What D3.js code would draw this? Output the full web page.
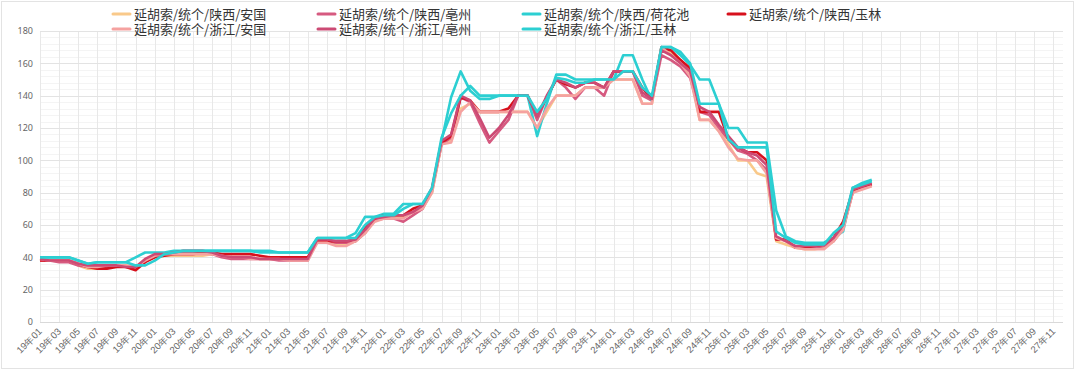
<!DOCTYPE html>
<html>
<head>
<meta charset="utf-8">
<script src="https://cdn.jsdelivr.net/npm/d3@7"></script>
<style>
  body { margin: 0; background: #fff; }
  svg { display: block; font-family: "Noto Sans CJK SC", "Noto Sans", sans-serif; }
</style>
</head>
<body>
<script>
// series names (legend order)
var seriesNames = [
  "延胡索/统个/陕西/安国", "延胡索/统个/陕西/亳州", "延胡索/统个/陕西/荷花池", "延胡索/统个/陕西/玉林",
  "延胡索/统个/浙江/安国", "延胡索/统个/浙江/亳州", "延胡索/统个/浙江/玉林"
];
var seriesColors = ["#f9c98a", "#d65a80", "#2ccfd2", "#d7101c", "#f5a2a0", "#cc4a74", "#2ccfd2"];

// monthly prices from 19年01 to 26年04
var sxAnguo = [39,38,38,38,35,33,33,34,35,35,34,38,
  40,41,41,41,41,41,42,41,40,40,40,39,39,39,39,39,39,
  50,50,48,48,50,55,63,65,65,65,68,70,80,
  110,112,132,135,130,130,130,130,130,130,120,130,
  140,140,140,145,145,145,150,150,150,135,135,
  170,166,162,155,125,125,118,110,100,100,92,90,50,48,46,45,45,46,50,58,80,83,85];
var sxBozhou = [38,38,37,37,35,34,34,34,35,34,33,38,
  41,42,42,43,43,43,42,40,39,39,39,39,39,38,38,38,38,
  50,50,49,49,50,55,63,64,64,62,66,70,82,
  110,114,139,136,123,111,118,125,140,140,125,139,
  150,145,138,145,145,140,155,155,155,140,137,
  165,162,158,151,130,128,120,113,106,104,100,94,51,51,46,46,46,47,50,58,80,83,85];
var sxHehuachi = [40,40,40,40,38,36,37,37,37,37,40,43,
  43,43,44,44,44,44,44,44,44,44,44,44,44,43,43,43,43,
  52,52,52,52,55,65,65,67,67,73,73,73,81,
  112,139,155,143,138,138,140,140,140,140,115,135,
  153,153,150,150,150,150,150,165,165,150,137,
  170,170,165,159,150,150,135,120,120,111,111,111,69,53,50,49,49,49,52,56,83,86,88];
var sxYulin = [38,38,38,38,36,34,33,33,34,34,32,37,
  40,41,42,42,42,43,43,42,42,42,42,41,40,40,40,40,40,
  50,50,50,50,51,58,64,66,66,66,70,72,82,
  111,115,139,137,130,130,130,132,140,140,128,139,
  150,147,145,148,148,145,155,155,155,145,138,
  170,168,162,157,130,130,130,113,108,105,105,100,51,51,46,46,47,48,52,62,81,84,85];
var zjAnguo = [39,38,38,38,36,34,34,35,35,35,34,38,
  41,42,42,42,42,42,42,41,40,40,39,39,39,39,38,38,38,
  49,49,47,47,50,55,62,64,64,64,68,70,80,
  110,111,130,136,130,130,130,130,130,130,120,132,
  140,140,140,145,145,145,150,150,150,135,135,
  170,165,160,152,125,125,118,108,101,100,100,92,52,50,46,45,45,45,50,57,80,82,84];
var zjBozhou = [39,38,38,38,36,35,35,35,35,34,34,39,
  42,42,43,44,44,44,43,41,40,40,40,39,39,39,39,39,39,
  51,51,50,50,51,57,64,65,66,66,68,72,83,
  112,116,140,137,126,114,120,128,140,140,127,140,
  150,148,145,148,148,145,155,155,155,142,138,
  168,165,160,155,133,130,122,115,108,105,103,97,53,50,47,47,47,48,52,60,82,84,86];
var zjYulin = [40,40,40,40,38,36,37,37,37,37,35,35,
  38,42,43,44,44,44,44,44,44,44,44,43,43,43,43,43,43,
  52,52,52,52,52,60,65,66,66,70,73,73,83,
  114,129,140,146,140,140,140,140,140,140,130,138,
  151,150,148,148,150,150,150,155,155,145,140,
  170,170,167,160,135,135,135,113,108,108,108,108,56,52,49,48,48,48,55,60,83,85,87];

var seriesValues = [sxAnguo, sxBozhou, sxHehuachi, sxYulin, zjAnguo, zjBozhou, zjYulin];

// x categories: 19年01 .. 27年12
var months = [];
for (var yy = 19; yy <= 27; yy++) {
  for (var mm = 1; mm <= 12; mm++) {
    months.push(yy + "年" + (mm < 10 ? "0" + mm : mm));
  }
}
var yTicks = [0, 20, 40, 60, 80, 100, 120, 140, 160, 180];

var W = 1080, H = 374;
var plotLeft = 40, plotRight = 1063, plotTop = 31, plotBottom = 322;

var svg = d3.select("body").append("svg")
  .attr("width", W)
  .attr("height", H);

// outer frame
svg.append("rect")
  .attr("x", 1.5).attr("y", 1.5)
  .attr("width", 1072).attr("height", 367)
  .attr("fill", "none")
  .attr("stroke", "#e3e3e3");

var x = d3.scalePoint().domain(months).range([plotLeft, plotRight]);
var y = d3.scaleLinear().domain([0, 180]).range([plotBottom, plotTop]);

// minor horizontal grid
svg.append("g")
  .selectAll("line")
  .data(d3.range(0, 181, 4).filter(function(d) { return d % 20 != 0; }))
  .enter().append("line")
  .attr("x1", plotLeft).attr("x2", plotRight)
  .attr("y1", function(d) { return Math.round(y(d)) + 0.5; })
  .attr("y2", function(d) { return Math.round(y(d)) + 0.5; })
  .attr("stroke", "#f4f4f4");

// vertical grid at every labelled month
var labelled = months.filter(function(d, i) { return i % 2 == 0; });
svg.append("g")
  .selectAll("line")
  .data(labelled)
  .enter().append("line")
  .attr("x1", function(d) { return Math.round(x(d)) + 0.5; })
  .attr("x2", function(d) { return Math.round(x(d)) + 0.5; })
  .attr("y1", plotTop).attr("y2", plotBottom)
  .attr("stroke", "#e8e8e8");

// major horizontal grid
svg.append("g")
  .selectAll("line")
  .data(yTicks)
  .enter().append("line")
  .attr("x1", plotLeft).attr("x2", plotRight)
  .attr("y1", function(d) { return Math.round(y(d)) + 0.5; })
  .attr("y2", function(d) { return Math.round(y(d)) + 0.5; })
  .attr("stroke", function(d) { return d == 0 ? "#d9d9d9" : "#e3e3e3"; });

// y axis labels
var yAxis = d3.axisLeft(y).tickValues(yTicks).tickSize(0).tickPadding(6);
var gy = svg.append("g")
  .attr("transform", "translate(" + (plotLeft - 1) + ",0)")
  .call(yAxis);
gy.select(".domain").remove();
gy.selectAll("text")
  .style("font-size", "9px")
  .style("fill", "#666")
  .style("font-family", "\"Noto Sans\", sans-serif");

// x axis labels
var xAxis = d3.axisBottom(x).tickValues(labelled).tickSize(0).tickPadding(0);
var gx = svg.append("g")
  .attr("transform", "translate(0," + plotBottom + ")")
  .call(xAxis);
gx.select(".domain").remove();
gx.selectAll("text")
  .style("font-size", "9.5px")
  .style("fill", "#666")
  .style("text-anchor", "end")
  .attr("y", 0)
  .attr("dy", 0)
  .attr("transform", "translate(2,10) rotate(-45)");

// lines
var line = d3.line()
  .x(function(d, i) { return x(months[i]); })
  .y(function(d) { return y(d); });

svg.append("g")
  .selectAll("path")
  .data(seriesValues)
  .enter().append("path")
  .attr("d", line)
  .attr("fill", "none")
  .attr("stroke", function(d, i) { return seriesColors[i]; })
  .attr("stroke-width", 2.6)
  .attr("stroke-linejoin", "round");

// legend
var legend = svg.append("g")
  .selectAll("g")
  .data(seriesNames)
  .enter().append("g")
  .attr("transform", function(d, i) {
    return "translate(" + (113 + (i % 4) * 205) + "," + (14 + Math.floor(i / 4) * 15) + ")";
  });

legend.append("line")
  .attr("x1", 0).attr("x2", 17)
  .attr("y1", 0).attr("y2", 0)
  .attr("stroke", function(d, i) { return seriesColors[i]; })
  .attr("stroke-width", 3)
  .attr("stroke-linecap", "round");

legend.append("text")
  .attr("x", 21)
  .attr("y", 0)
  .attr("dy", "0.35em")
  .style("font-size", "13px")
  .style("fill", "#333")
  .text(function(d) { return d; });
</script>
</body>
</html>
